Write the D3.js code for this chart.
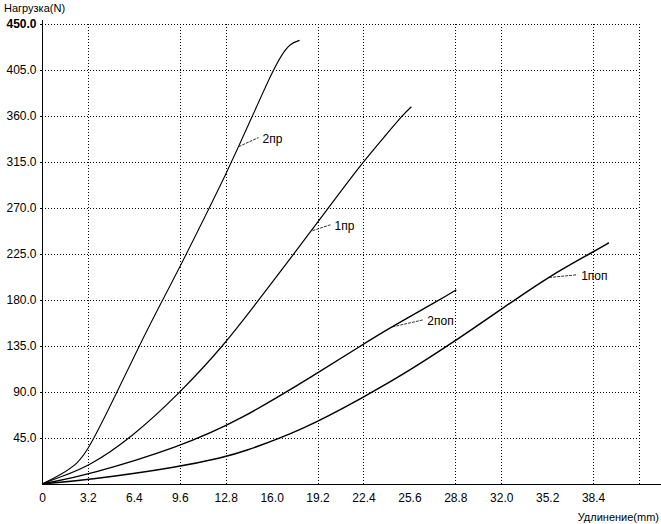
<!DOCTYPE html>
<html>
<head>
<meta charset="utf-8">
<script src="https://cdn.jsdelivr.net/npm/d3@7"></script>
<style>
  html, body { margin: 0; padding: 0; background: #fff; }
  svg { display: block; }
  text { font-family: "Liberation Sans", Arial, sans-serif; fill: #000; }
</style>
</head>
<body>
<svg id="chart" width="661" height="524"></svg>
<script>
// ---- data ----
const xTicks = [0, 3.2, 6.4, 9.6, 12.8, 16.0, 19.2, 22.4, 25.6, 28.8, 32.0, 35.2, 38.4];
const xTickLabels = ["0", "3.2", "6.4", "9.6", "12.8", "16.0", "19.2", "22.4", "25.6", "28.8", "32.0", "35.2", "38.4"];
const xGrid = [3.2, 9.6, 12.8, 19.2, 22.4, 28.8, 32.0, 38.4, 41.6];
const yTicks = [45, 90, 135, 180, 225, 270, 315, 360, 405, 450];
const yTickLabels = ["45.0", "90.0", "135.0", "180.0", "225.0", "270.0", "315.0", "360.0", "405.0", "450.0"];

const seriesNames = ["2пр", "1пр", "2поп", "1поп"];
const x2pr = [0, 1.3, 2.5, 3.2, 4.0, 5.3, 6.8, 8.4, 9.6, 11.7, 12.7, 13.6, 14.6, 16.0, 16.7, 17.3, 17.95];
const y2pr = [0, 9, 20, 34, 55, 92, 136, 180, 212, 271, 300, 327, 358, 402, 420, 431, 434];
const x1pr = [0, 1.25, 3.2, 6.3, 9.6, 12.7, 15.1, 17.6, 20.0, 22.3, 24.0, 25.2, 25.74];
const y1pr = [0, 6.9, 16.6, 46, 89, 136, 180, 226, 271, 314, 342, 362, 369];
const x2pop = [0, 3.2, 9.6, 13.8, 19.1, 22.3, 24.4, 27.7, 28.87];
const y2pop = [0, 8.8, 36.4, 62.5, 107.5, 136, 154, 180, 190];
const x1pop = [0, 3.2, 9.6, 12.7, 13.8, 18.2, 22.3, 25.4, 28.7, 31.9, 35.3, 38.4, 39.5];
const y1pop = [0, 3.9, 16.6, 26.5, 30.4, 53, 84, 109, 139, 170, 203, 227, 236];

// label annotation anchors (curve point -> text), in data units
const labelCurveX = [13.7, 18.85, 24.42, 35.34];
const labelCurveY = [330, 247.8, 153.7, 202];
const labelTextX = [15.37, 20.38, 26.85, 37.57];
const labelTextY = [334, 248.7, 155.7, 199.8];

const yTitle = "Нагрузка(N)";
const xTitle = "Удлинение(mm)";

// ---- chart ----
const svg = d3.select("#chart");
const x = d3.scaleLinear().domain([0, 41.6]).range([42, 639]);
const y = d3.scaleLinear().domain([0, 450]).range([484, 24]);

// grid
const grid = svg.append("g").attr("stroke", "#000").attr("stroke-width", 1)
  .attr("stroke-dasharray", "1,2").attr("shape-rendering", "crispEdges");
grid.selectAll("line.h").data(yTicks).join("line").attr("class", "h")
  .attr("x1", x(0)).attr("x2", x(41.6))
  .attr("y1", d => Math.round(y(d)) + 0.5).attr("y2", d => Math.round(y(d)) + 0.5);
grid.selectAll("line.v").data(xGrid).join("line").attr("class", "v")
  .attr("x1", d => Math.round(x(d)) + 0.5).attr("x2", d => Math.round(x(d)) + 0.5)
  .attr("y1", y(450)).attr("y2", y(0));

// y axis
const yAxis = d3.axisLeft(y).tickValues(yTicks).tickSize(3)
  .tickFormat((d, i) => yTickLabels[i]);
const gy = svg.append("g").attr("transform", `translate(${x(0) + 0.5},0)`).call(yAxis);
gy.select(".domain").remove();
gy.selectAll(".tick line").attr("stroke", "#000").attr("shape-rendering", "crispEdges");
gy.selectAll(".tick text").attr("font-size", 12).attr("x", -6)
  .attr("font-family", "Liberation Sans, Arial, sans-serif")
  .attr("font-weight", d => d === 450 ? "bold" : "normal");
svg.append("line").attr("x1", x(0) + 0.5).attr("x2", x(0) + 0.5).attr("y1", 20).attr("y2", y(0))
  .attr("stroke", "#000").attr("shape-rendering", "crispEdges");

// x axis
const xAxis = d3.axisBottom(x).tickValues(xTicks).tickSize(0)
  .tickFormat((d, i) => xTickLabels[i]);
const gx = svg.append("g").attr("transform", `translate(0,${y(0) + 0.5})`).call(xAxis);
gx.select(".domain").remove();
gx.selectAll(".tick text").attr("font-size", 12).attr("dy", "1.2em")
  .attr("font-family", "Liberation Sans, Arial, sans-serif");
svg.append("line").attr("x1", x(0)).attr("x2", 661).attr("y1", y(0) + 0.5).attr("y2", y(0) + 0.5)
  .attr("stroke", "#000").attr("shape-rendering", "crispEdges");

// curves
const seriesX = [x2pr, x1pr, x2pop, x1pop];
const seriesY = [y2pr, y1pr, y2pop, y1pop];
const seriesW = [1.1, 1.2, 1.4, 1.5];
const line = d3.line().x(d => x(d[0])).y(d => y(d[1])).curve(d3.curveBasis);
seriesNames.forEach((name, i) => {
  const pts = seriesX[i].map((v, j) => [v, seriesY[i][j]]);
  svg.append("path").datum(pts).attr("d", line)
    .attr("fill", "none").attr("stroke", "#000").attr("stroke-width", seriesW[i]);
});

// annotations
seriesNames.forEach((name, i) => {
  const tx = x(labelTextX[i]), ty = y(labelTextY[i]);
  svg.append("line")
    .attr("x1", x(labelCurveX[i])).attr("y1", y(labelCurveY[i]))
    .attr("x2", tx - 4).attr("y2", ty - 5)
    .attr("stroke", "#000").attr("stroke-width", 0.8).attr("stroke-dasharray", "3,1");
  svg.append("text").attr("x", tx).attr("y", ty).attr("font-size", 12).text(name);
});

// titles
svg.append("text").attr("x", 4).attr("y", 12).attr("font-size", 11).text(yTitle);
svg.append("text").attr("x", 659).attr("y", 521).attr("font-size", 11)
  .attr("text-anchor", "end").text(xTitle);
</script>
</body>
</html>
